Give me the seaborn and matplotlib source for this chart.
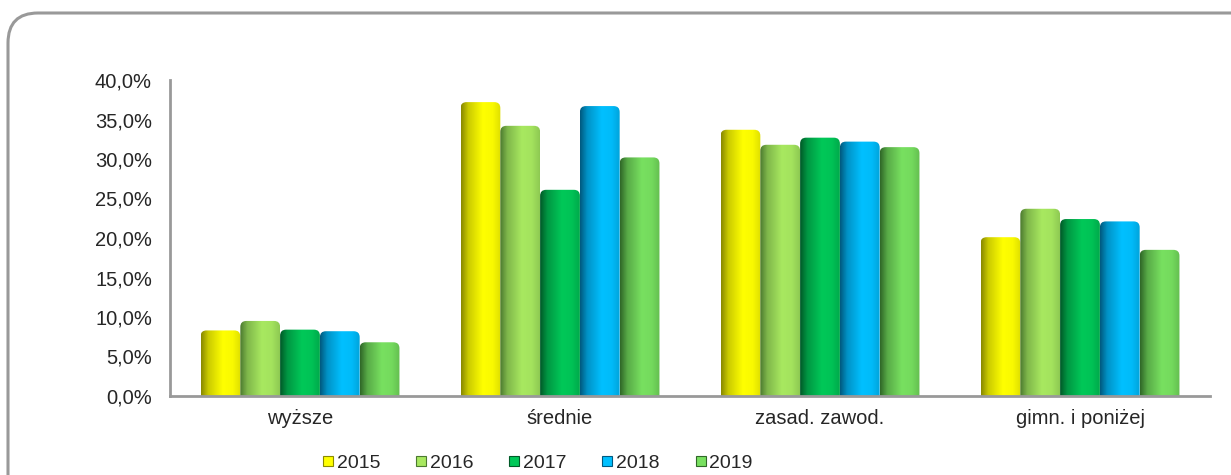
import numpy as np
import pandas as pd
import seaborn as sns
import matplotlib.pyplot as plt
from matplotlib.patches import FancyBboxPatch
from matplotlib.transforms import IdentityTransform
from matplotlib.colors import to_rgb
from matplotlib.lines import Line2D
from matplotlib.ticker import FuncFormatter, FixedLocator

# data (share of people, %)
categories = ['wyższe', 'średnie', 'zasad. zawod.', 'gimn. i poniżej']
years = ['2015', '2016', '2017', '2018', '2019']
v2015 = [8.3, 37.2, 33.7, 20.1]
v2016 = [9.5, 34.2, 31.8, 23.7]
v2017 = [8.4, 26.1, 32.7, 22.4]
v2018 = [8.2, 36.7, 32.2, 22.1]
v2019 = [6.8, 30.2, 31.5, 18.5]

bright = ['#FFFF00', '#A8E860', '#00C858', '#00C0FF', '#78E060']
dark = ['#8A8A00', '#4C7A30', '#005A28', '#005A80', '#306828']

rows = []
for y, vals in zip(years, [v2015, v2016, v2017, v2018, v2019]):
    for c, v in zip(categories, vals):
        rows.append({'kat': c, 'rok': y, 'udzial': v})
df = pd.DataFrame(rows)

sns.set_style('white')
plt.rcParams['font.family'] = ['Liberation Sans', 'DejaVu Sans']

fig = plt.figure(figsize=(12.31, 4.75), dpi=100)
ax = fig.add_axes([170 / 1231, 1 - 396 / 475, 1040 / 1231, 316 / 475])

sns.barplot(data=df, x='kat', y='udzial', hue='rok', order=categories,
            hue_order=years, palette=bright, width=0.765, gap=0,
            legend=False, ax=ax)

ax.set_xlim(-0.5, 3.5)
ax.set_ylim(0, 40)


def shade(base, low):
    # cylinder-like horizontal profile: dark left edge, bright middle
    pos = np.linspace(0, 1, 64)
    t = np.interp(pos, [0, 0.18, 0.55, 0.8, 1.0], [0.0, 0.55, 1.0, 0.95, 0.72])
    b = np.array(to_rgb(base))
    d = np.array(to_rgb(low))
    return (d[None, :] * (1 - t[:, None]) + b[None, :] * t[:, None])[None, :, :]


fig.canvas.draw()
n_cat = len(categories)
for i, p in enumerate(ax.patches):
    h_idx = i // n_cat
    x0, w, h = p.get_x(), p.get_width(), p.get_height()
    p.set_visible(False)
    im = ax.imshow(shade(bright[h_idx], dark[h_idx]), extent=(x0, x0 + w, 0, h),
                   aspect='auto', interpolation='bilinear', zorder=3)
    (px0, py0) = ax.transData.transform((x0, 0))
    (px1, py1) = ax.transData.transform((x0 + w, h))
    clip = FancyBboxPatch((px0, py0 - 8), px1 - px0, py1 - py0 + 8,
                          boxstyle='round,pad=0,rounding_size=6',
                          transform=IdentityTransform())
    im.set_clip_path(clip)

ax.set_xlim(-0.5, 3.5)
ax.set_ylim(0, 40)

# axes styling
for s in ['top', 'right']:
    ax.spines[s].set_visible(False)
for s in ['left', 'bottom']:
    ax.spines[s].set_color('#999999')
    ax.spines[s].set_linewidth(2)
    ax.spines[s].set_zorder(4)

ax.yaxis.set_major_locator(FixedLocator(np.arange(0, 41, 5)))
ax.yaxis.set_major_formatter(FuncFormatter(lambda v, _: f'{v:.1f}%'.replace('.', ',')))
ax.tick_params(axis='y', length=0, pad=13, labelsize=14.5, labelcolor='#262626')

ax.set_xticks(np.arange(-0.5, 4, 1))
ax.set_xticklabels([])
ax.set_xticks(range(len(categories)), minor=True)
ax.set_xticklabels(categories, minor=True)
ax.tick_params(axis='x', which='major', length=5, width=2, color='#999999', direction='out')
ax.tick_params(axis='x', which='minor', length=0, pad=9, labelsize=14.5, labelcolor='#262626')
ax.set_xlabel('')
ax.set_ylabel('')

handles = [Line2D([], [], marker='s', linestyle='none', markersize=7,
                  markerfacecolor=c, markeredgecolor=d, markeredgewidth=0.8)
           for c, d in zip(bright, dark)]
fig.legend(handles, years, loc='center', bbox_to_anchor=(537 / 1231, 1 - 463 / 475),
           ncol=5, frameon=False, fontsize=14, handlelength=0.7, handletextpad=0.1,
           columnspacing=1.75, labelcolor='#262626')

# rounded frame around the chart (cut off on the right and bottom)
frame = FancyBboxPatch((8, -40), 1260, 475 - 13 + 40,
                       boxstyle='round,pad=0,rounding_size=30',
                       transform=IdentityTransform(), facecolor='none',
                       edgecolor='#999999', linewidth=2.2)
fig.patches.append(frame)

fig.savefig('out.png', dpi=100)
